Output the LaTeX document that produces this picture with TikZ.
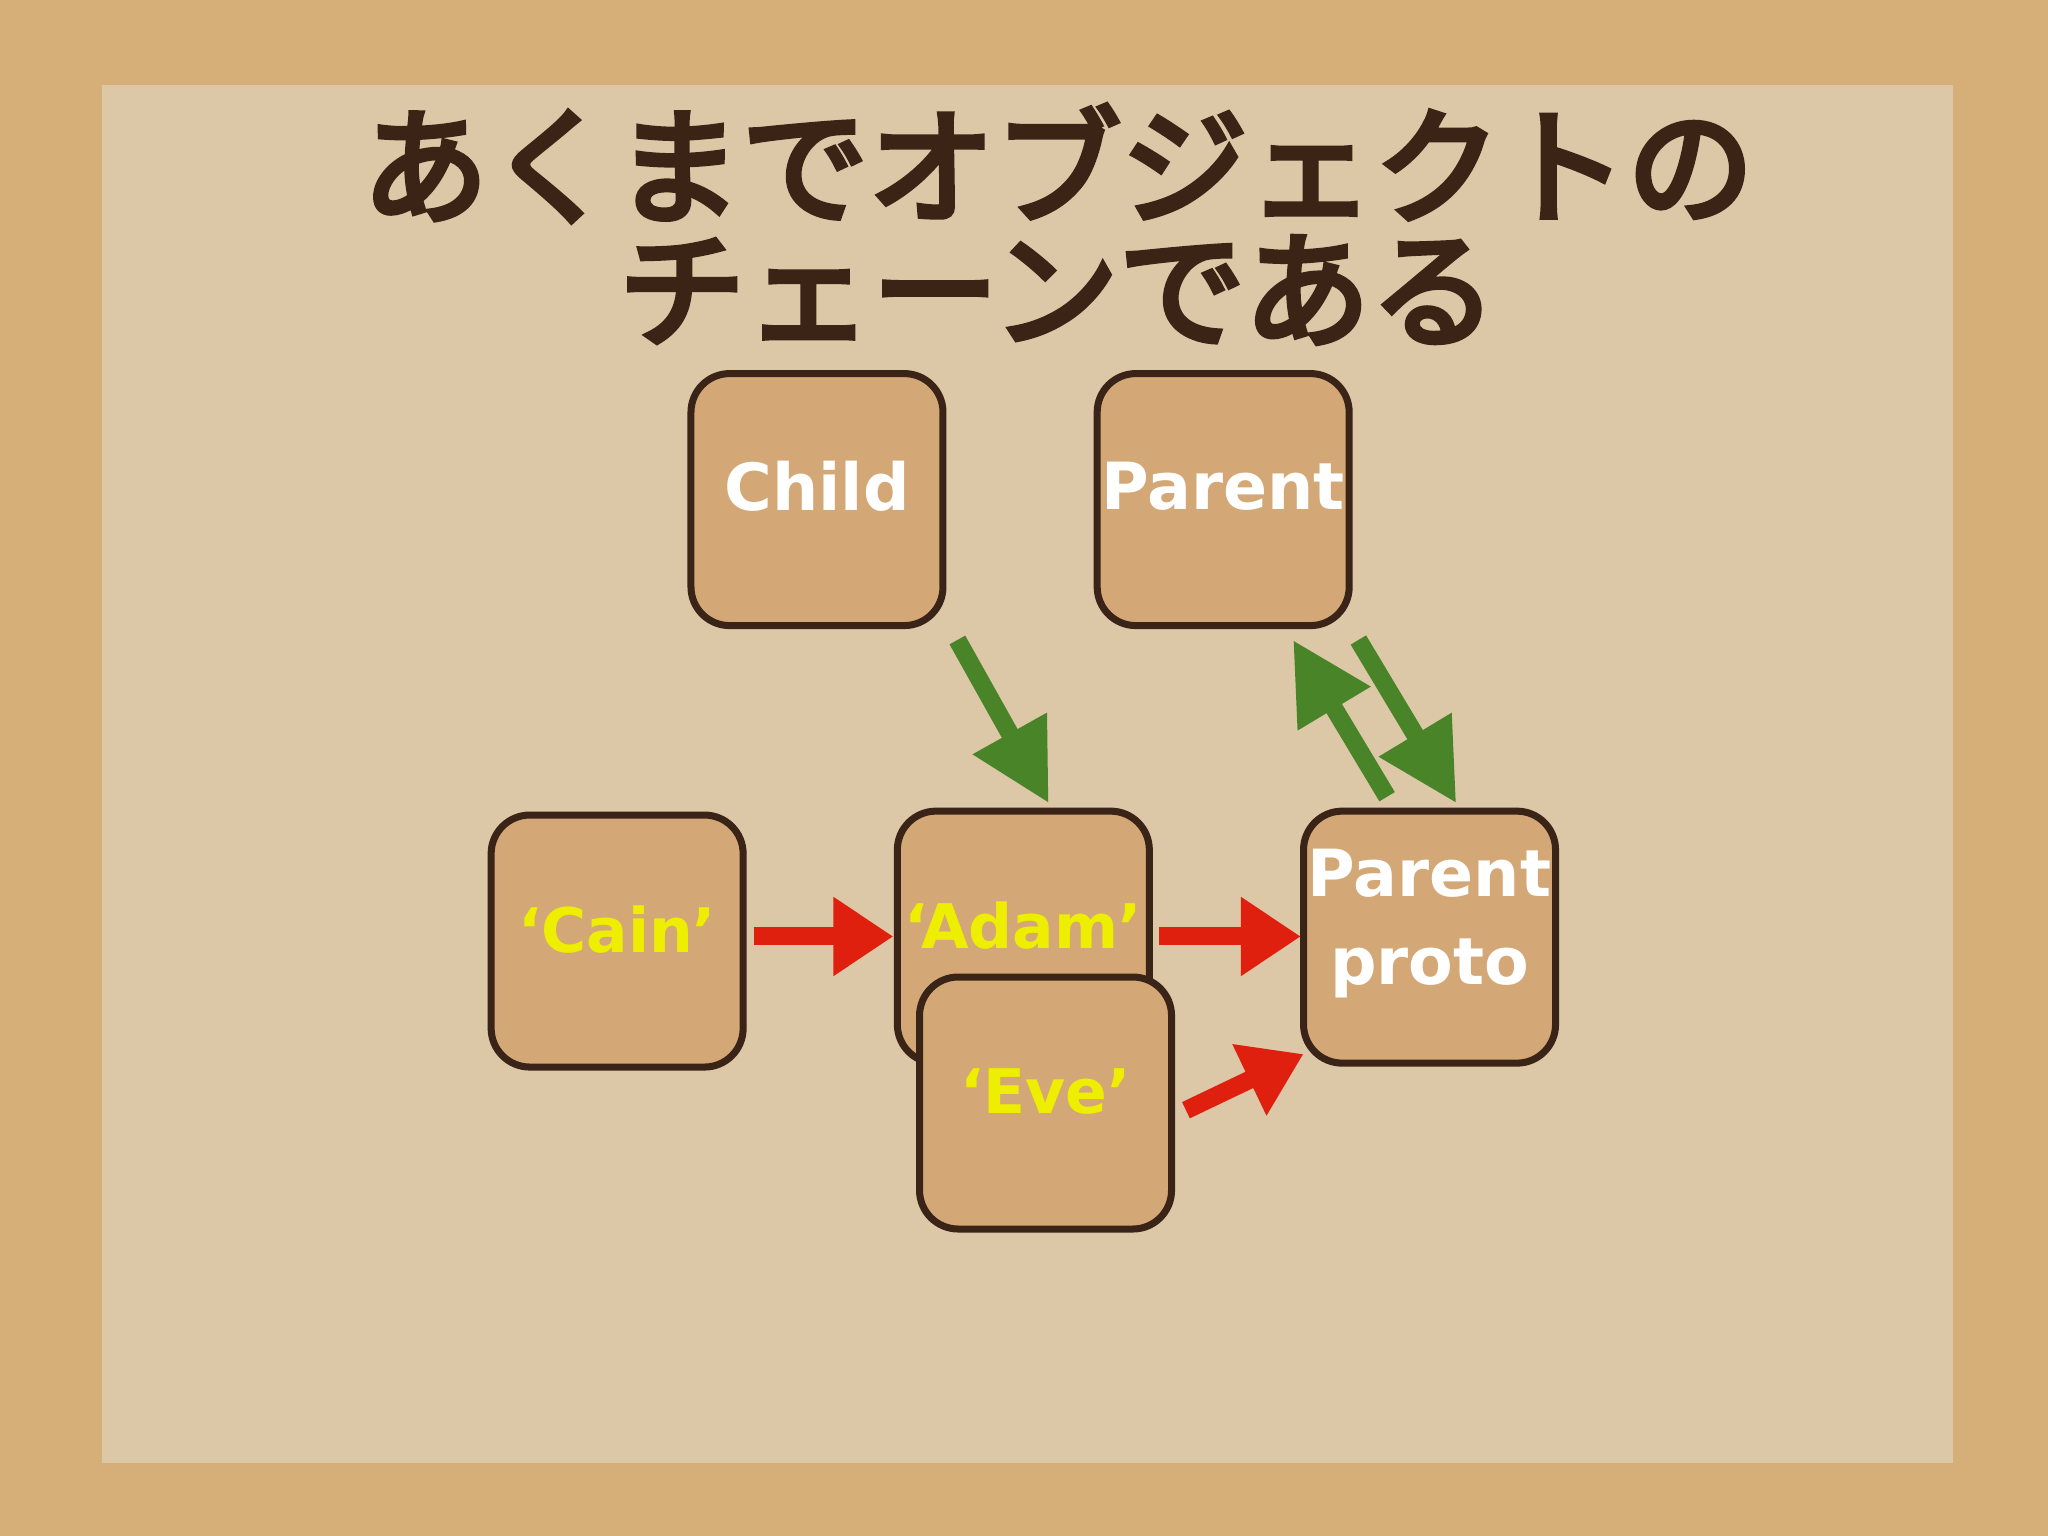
\documentclass[tikz,border=0pt]{standalone}
\usepackage{fontspec}
\newfontfamily\cjk{Noto Sans CJK JP}
\newfontfamily\lab{DejaVu Sans}
\newcommand\heavytxt[1]{\special{pdf:literal direct 2 Tr 1.6 w}#1\special{pdf:literal direct 0 Tr}}
\usetikzlibrary{arrows.meta}
\begin{document}
\begin{tikzpicture}[x=0.01306cm,y=-0.01306cm,
  box/.style={draw=boxline,fill=boxfill,line width=2pt,rounded corners=11pt,minimum width=2.52cm,minimum height=2.52cm},
  wlab/.style={text=white,font=\lab\bfseries\fontsize{18.5}{25}\selectfont,align=center},
  ylab/.style={text=ylw,font=\lab\bfseries\fontsize{17.5}{28}\selectfont},
  garrow/.style={draw=grn,line width=0.18cm,-{Triangle[length=0.8cm,width=0.8cm]}},
  rarrow/.style={draw=rd,line width=0.18cm,-{Triangle[length=0.6cm,width=0.75cm]}}]
\definecolor{cork}{HTML}{D6AE78}
\definecolor{paper}{HTML}{DCC7A6}
\definecolor{boxfill}{HTML}{D3A876}
\definecolor{boxline}{HTML}{3A2418}
\definecolor{ttl}{HTML}{3B2416}
\definecolor{ylw}{HTML}{EEEE00}
\definecolor{grn}{HTML}{4A8428}
\definecolor{rd}{HTML}{E0200E}
\fill[cork] (0,0) rectangle (1568,1176);
\fill[paper] (78,65) rectangle (1495,1120);
\useasboundingbox (0,0) rectangle (1568,1176);
\node[text=ttl,font=\cjk\fontsize{36}{44}\selectfont] (t1) at (810,125) {\heavytxt{あくまでオブジェクトの}};
\node[text=ttl,font=\cjk\fontsize{36}{44}\selectfont] (t2) at (810,222) {\heavytxt{チェーンである}};
\node[box] (child) at (625.5,382.5) {};
\node[box] (parent) at (936.5,382.5) {};
\node[box] (cain) at (472.5,720.5) {};
\node[box] (adam) at (783.5,717.5) {};
\node[box] (eve) at (800.5,844.5) {};
\node[box] (proto) at (1094.5,717.5) {};
\node[wlab] (childl) at (625.5,372) {Child};
\node[wlab] (parentl) at (936.5,372) {Parent};
\node[wlab] (protol) at (1094.5,707) {Parent\\proto};
\node[ylab] (cainl) at (472.5,712) {‘Cain’};
\node[ylab] (adaml) at (783.5,709) {‘Adam’};
\node[ylab] (evel) at (800.5,836) {‘Eve’};
\coordinate (g1s) at (733,490); \coordinate (g1e) at (803,615);
\coordinate (g2s) at (1062,610); \coordinate (g2e) at (990,490);
\coordinate (g3s) at (1040,490); \coordinate (g3e) at (1115,615);
\coordinate (r1s) at (577,717); \coordinate (r1e) at (684,717);
\coordinate (r2s) at (887,717); \coordinate (r2e) at (996,717);
\coordinate (r3s) at (908,850); \coordinate (r3e) at (998,807);
\draw[garrow] (g1s) -- (g1e);
\draw[garrow] (g2s) -- (g2e);
\draw[garrow] (g3s) -- (g3e);
\draw[rarrow] (r1s) -- (r1e);
\draw[rarrow] (r2s) -- (r2e);
\draw[rarrow] (r3s) -- (r3e);
\end{tikzpicture}
\end{document}
